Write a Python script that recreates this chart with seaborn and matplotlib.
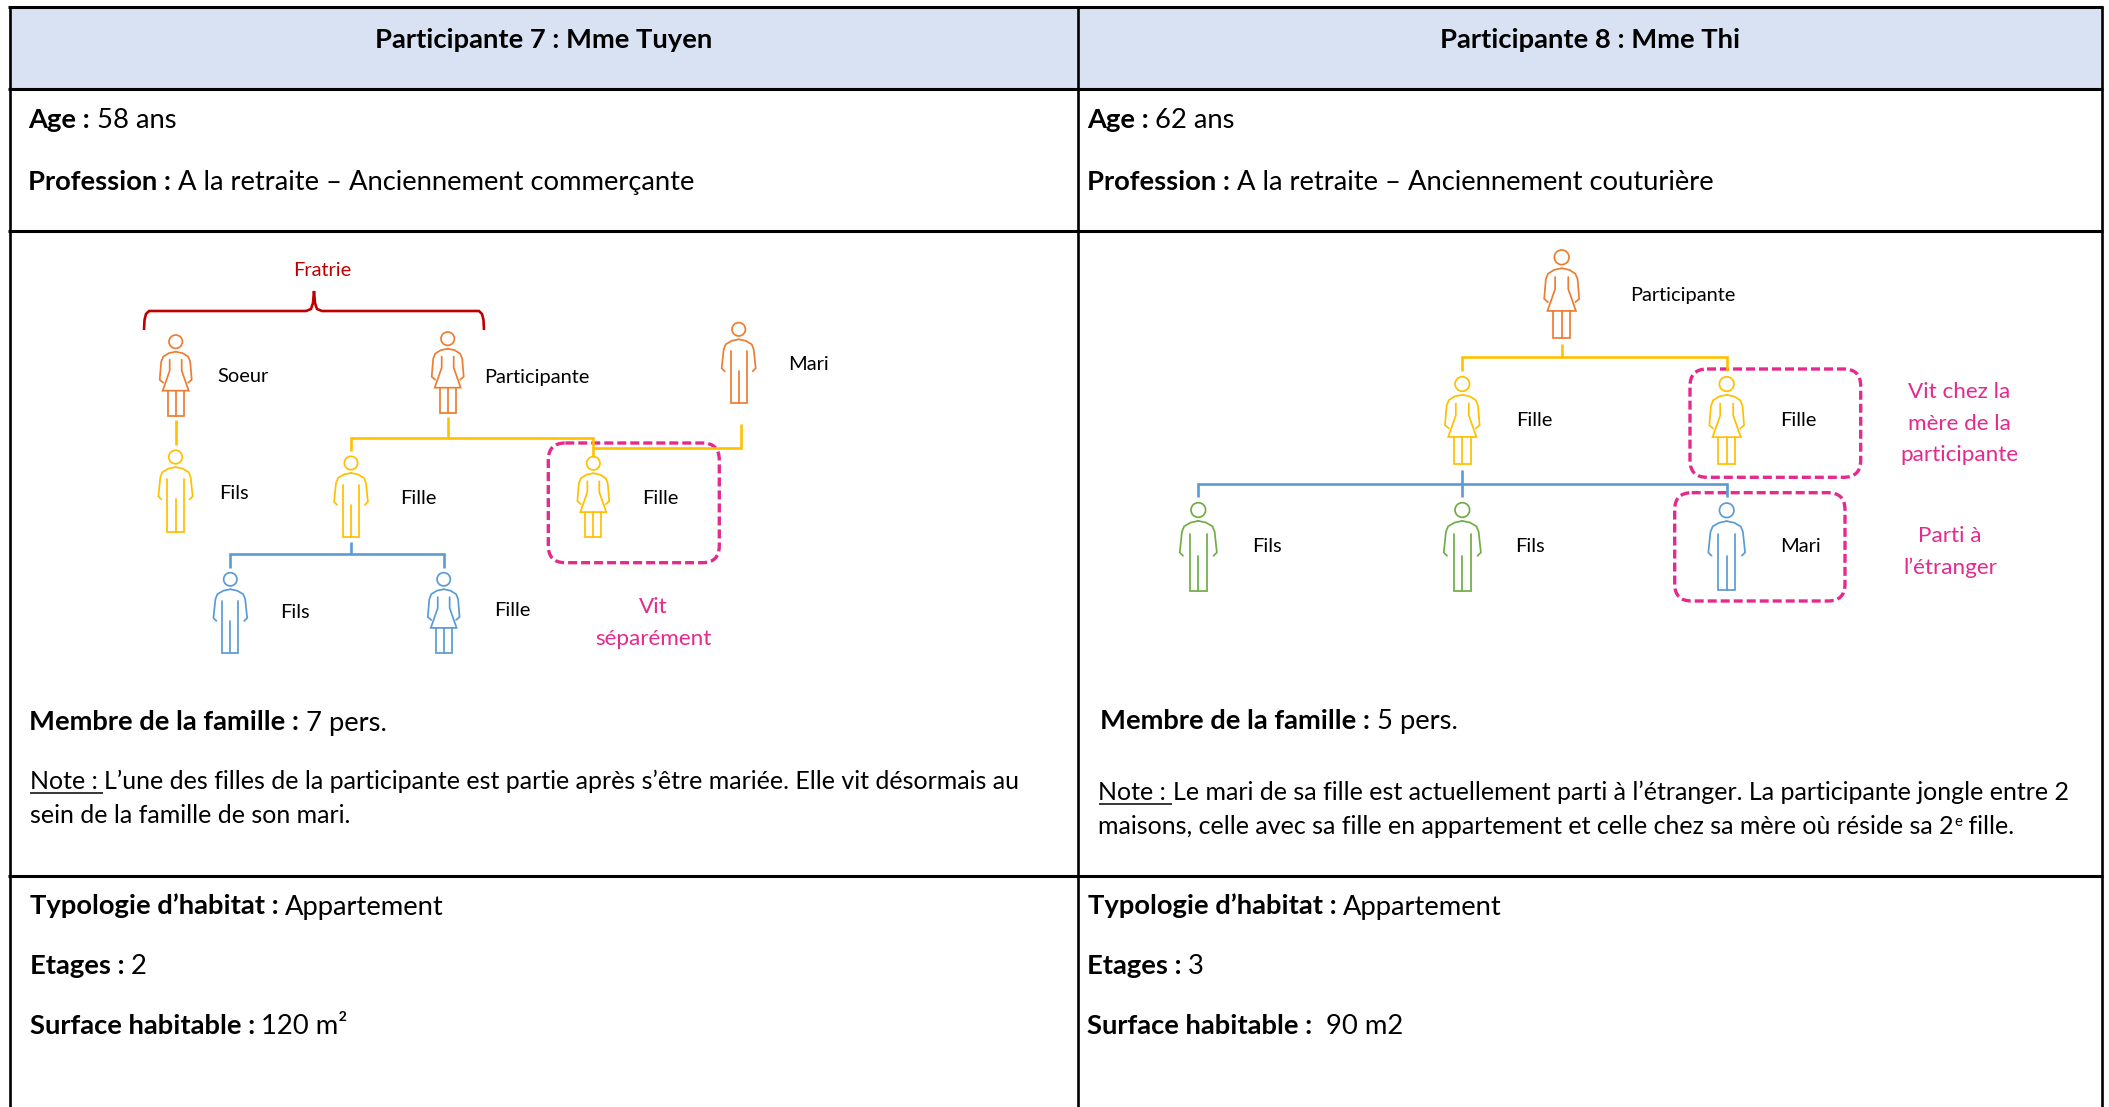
import matplotlib
matplotlib.use("Agg")
import matplotlib.pyplot as plt
import seaborn as sns
from matplotlib.patches import FancyBboxPatch, Rectangle, Circle

ORANGE = '#ED7D31'
YELLOW = '#FFC000'
BLUE = '#5B9BD5'
GREEN = '#70AD47'
PINK = '#E32A8E'
RED = '#C00000'

# people in the two family trees
names = ['Soeur', 'Participante', 'Mari', 'Fils', 'Fille', 'Fille', 'Fils', 'Fille',
         'Participante', 'Fille', 'Fille', 'Fils', 'Fils', 'Mari']
kinds = ['f', 'f', 'm', 'm', 'm', 'f', 'm', 'f',
         'f', 'f', 'f', 'm', 'm', 'm']
colors = [ORANGE, ORANGE, ORANGE, YELLOW, YELLOW, YELLOW, BLUE, BLUE,
          ORANGE, YELLOW, YELLOW, GREEN, GREEN, BLUE]
head_x = [175.7, 447.7, 738.7, 175.5, 351, 593.3, 230.3, 443.7,
          1561.7, 1462.3, 1726.7, 1198.3, 1462.3, 1726.7]
head_y = [341.7, 338.7, 329.3, 457, 463, 463.3, 579.3, 579.3,
          257.3, 384, 384, 510, 510, 510.3]
feet_y = [415.7, 412.7, 403.3, 531.7, 536.7, 537, 652.7, 652.7,
          338.3, 464, 464.3, 590.7, 590.7, 590.3]
label_x = [217.5, 484, 788.5, 219.5, 400.5, 642.5, 280, 494.5,
           1630, 1516, 1780, 1252, 1515.5, 1780]
label_y = [375.5, 377, 364, 493, 498, 497.5, 612.5, 609.5,
           294.5, 420.5, 420.5, 546.5, 546.5, 546.5]

# connectors: colour, x list, y list
links = [
    (YELLOW, [175.5, 175.5], [420, 445]),
    (YELLOW, [447.7, 447.7], [417, 438.3]),
    (YELLOW, [351, 351, 593.3, 593.3], [451, 438.3, 438.3, 457]),
    (YELLOW, [593.3, 741.3, 741.3], [448, 448, 424.3]),
    (BLUE, [351.3, 351.3], [542.3, 554]),
    (BLUE, [230.3, 230.3, 443.7, 443.7], [567.7, 554, 554, 567.7]),
    (YELLOW, [1561.7, 1561.7], [343.7, 357.3]),
    (YELLOW, [1462.3, 1462.3, 1726.7, 1726.7], [370.7, 357.3, 357.3, 370.7]),
    (BLUE, [1462.3, 1462.3], [470, 497.3]),
    (BLUE, [1198.3, 1198.3, 1726.7, 1726.7], [497.3, 483.7, 483.7, 496.7]),
]

# dashed boxes: left, top, right, bottom
boxes = [(548.3, 443, 719.3, 562.7), (1690, 369, 1860.7, 477.3), (1674.7, 492.7, 1845, 601)]

# pink remarks
pink_text = ['Vit', 'séparément', 'Vit chez la', 'mère de la', 'participante', 'Parti à', 'l’étranger']
pink_x = [653, 653, 1959.5, 1959.5, 1959.5, 1950, 1950]
pink_y = [606, 638, 391, 422.5, 454, 535.5, 567.5]

headers = ['Participante 7 : Mme Tuyen', 'Participante 8 : Mme Thi']
header_x = [544, 1590]

# text pieces: (text, bold, underline, superscript)
info_rows = [
    [('Age : ', 1, 0, 0), ('58 ans', 0, 0, 0)],
    [('Profession : ', 1, 0, 0), ('A la retraite – Anciennement commerçante', 0, 0, 0)],
    [('Membre de la famille : ', 1, 0, 0), ('7 pers.', 0, 0, 0)],
    [('Typologie d’habitat : ', 1, 0, 0), ('Appartement', 0, 0, 0)],
    [('Etages : ', 1, 0, 0), ('2', 0, 0, 0)],
    [('Surface habitable : ', 1, 0, 0), ('120 m²', 0, 0, 0)],
    [('Age : ', 1, 0, 0), ('62 ans', 0, 0, 0)],
    [('Profession : ', 1, 0, 0), ('A la retraite – Anciennement couturière', 0, 0, 0)],
    [('Membre de la famille : ', 1, 0, 0), ('5 pers.', 0, 0, 0)],
    [('Typologie d’habitat : ', 1, 0, 0), ('Appartement', 0, 0, 0)],
    [('Etages : ', 1, 0, 0), ('3', 0, 0, 0)],
    [('Surface habitable : ', 1, 0, 0), (' 90 m2', 0, 0, 0)],
]
info_x = [28.5, 28.5, 29, 29.5, 29.5, 29.5, 1087, 1087, 1100.5, 1087.5, 1087, 1087]
info_y = [121.5, 183, 723.5, 907.5, 967.5, 1027.5, 121.5, 183, 722, 907.5, 967.5, 1027.5]

note_rows = [
    [('Note : ', 0, 1, 0), ('L’une des filles de la participante est partie après s’être mariée. Elle vit désormais au', 0, 0, 0)],
    [('sein de la famille de son mari.', 0, 0, 0)],
    [('Note : ', 0, 1, 0), ('Le mari de sa fille est actuellement parti à l’étranger. La participante jongle entre 2', 0, 0, 0)],
    [('maisons, celle avec sa fille en appartement et celle chez sa mère où réside sa 2', 0, 0, 0), ('e', 0, 0, 1), (' fille.', 0, 0, 0)],
]
note_x = [29.5, 29.5, 1098.5, 1098.5]
note_y = [782, 816, 793.5, 827.5]

BODY = 19.7
NOTE = 18.0
SMALL = 14.4
REMARK = 16.2
W, H = 2109, 1107

sns.set_theme(style='white')
plt.rcParams['font.family'] = ['Lato', 'DejaVu Sans']

fig = plt.figure(figsize=(W / 100, H / 100), dpi=100)
ax = fig.add_axes([0, 0, 1, 1])
ax.set_xlim(0, W)
ax.set_ylim(H, 0)
ax.set_autoscale_on(False)
ax.axis('off')


def draw(xs, ys, color, lw, cap='butt'):
    sns.lineplot(x=xs, y=ys, sort=False, estimator=None, color=color, linewidth=lw,
                 legend=False, solid_capstyle=cap, solid_joinstyle='miter', ax=ax)


def person(cx, hy, fy, kind, color):
    k = (fy - hy) / 74.0
    lw = 1.25

    def seg(pts):
        draw([cx + p[0] * k for p in pts], [hy + p[1] * k for p in pts], color, lw, 'round')

    ax.add_patch(Circle((cx, hy), 6.7 * k, fill=False, edgecolor=color, linewidth=lw))
    if kind == 'f':
        side = [(-12.5, 41), (-16, 38), (-14.5, 20), (-12.5, 15), (-7, 11.5), (0, 10)]
        seg(side)
        seg([(-p[0], p[1]) for p in side])
        seg([(-6, 18), (-6, 29), (-13, 49), (13, 49), (6, 29), (6, 18)])
        seg([(-8, 49), (-8, 74), (8, 74), (8, 49)])
        seg([(0, 49), (0, 74)])
    else:
        side = [(-14, 42), (-17, 39), (-15, 20), (-13, 15), (-7, 11.5), (0, 10)]
        seg(side)
        seg([(-p[0], p[1]) for p in side])
        seg([(-8, 22), (-8, 74), (8, 74), (8, 22)])
        seg([(0, 42), (0, 74)])


def rich(x, y, pieces, size):
    rend = fig.canvas.get_renderer()
    for s, bold, under, sup in pieces:
        t = ax.text(x, y - (8 if sup else 0), s, fontsize=size * (0.6 if sup else 1),
                    fontweight='bold' if bold else 'normal', va='baseline', ha='left', color='black')
        w = t.get_window_extent(rend).width
        if under:
            draw([x, x + w - 1], [y + 3.5, y + 3.5], 'black', 1.1)
        x += w


# table frame
ax.add_patch(Rectangle((9, 7), 2102 - 9, 82, facecolor='#D9E2F3', edgecolor='none'))
for yy in [7, 89, 231, 876]:
    draw([8, 2103], [yy, yy], 'black', 2.2)
for xx in [9.5, 1078, 2102]:
    draw([xx, xx], [6, H], 'black', 1.9)

for s, xx in zip(headers, header_x):
    ax.text(xx, 47.5, s, fontsize=BODY, fontweight='bold', ha='center', va='baseline', color='black')
for pieces, xx, yy in zip(info_rows, info_x, info_y):
    rich(xx, yy + 7, pieces, BODY)
for pieces, xx, yy in zip(note_rows, note_x, note_y):
    rich(xx, yy + 7, pieces, NOTE)

# bracket above the siblings
draw([144, 144.5, 146, 149, 306, 311, 313, 314, 315, 317, 322, 479, 482, 483.5, 484],
     [330, 320, 314, 311, 311, 309, 303, 291, 303, 309, 311, 311, 314, 320, 330], RED, 1.9)
ax.text(322.7, 276.5, 'Fratrie', fontsize=SMALL, color=RED, ha='center', va='baseline')

for color, xs, ys in links:
    draw(xs, ys, color, 1.9)
for i in range(len(names)):
    person(head_x[i], head_y[i], feet_y[i], kinds[i], colors[i])
    ax.text(label_x[i], label_y[i] + 6, names[i], fontsize=SMALL, color='black', ha='left', va='baseline')

for x0, y0, x1, y1 in boxes:
    ax.add_patch(FancyBboxPatch((x0, y0), x1 - x0, y1 - y0, boxstyle='round,pad=0,rounding_size=17',
                                fill=False, edgecolor=PINK, linewidth=2.4, linestyle=(0, (2.7, 1.2))))
for s, xx, yy in zip(pink_text, pink_x, pink_y):
    ax.text(xx, yy + 7, s, fontsize=REMARK, color=PINK, ha='center', va='baseline')

fig.savefig('out.png', dpi=100, facecolor='white')
